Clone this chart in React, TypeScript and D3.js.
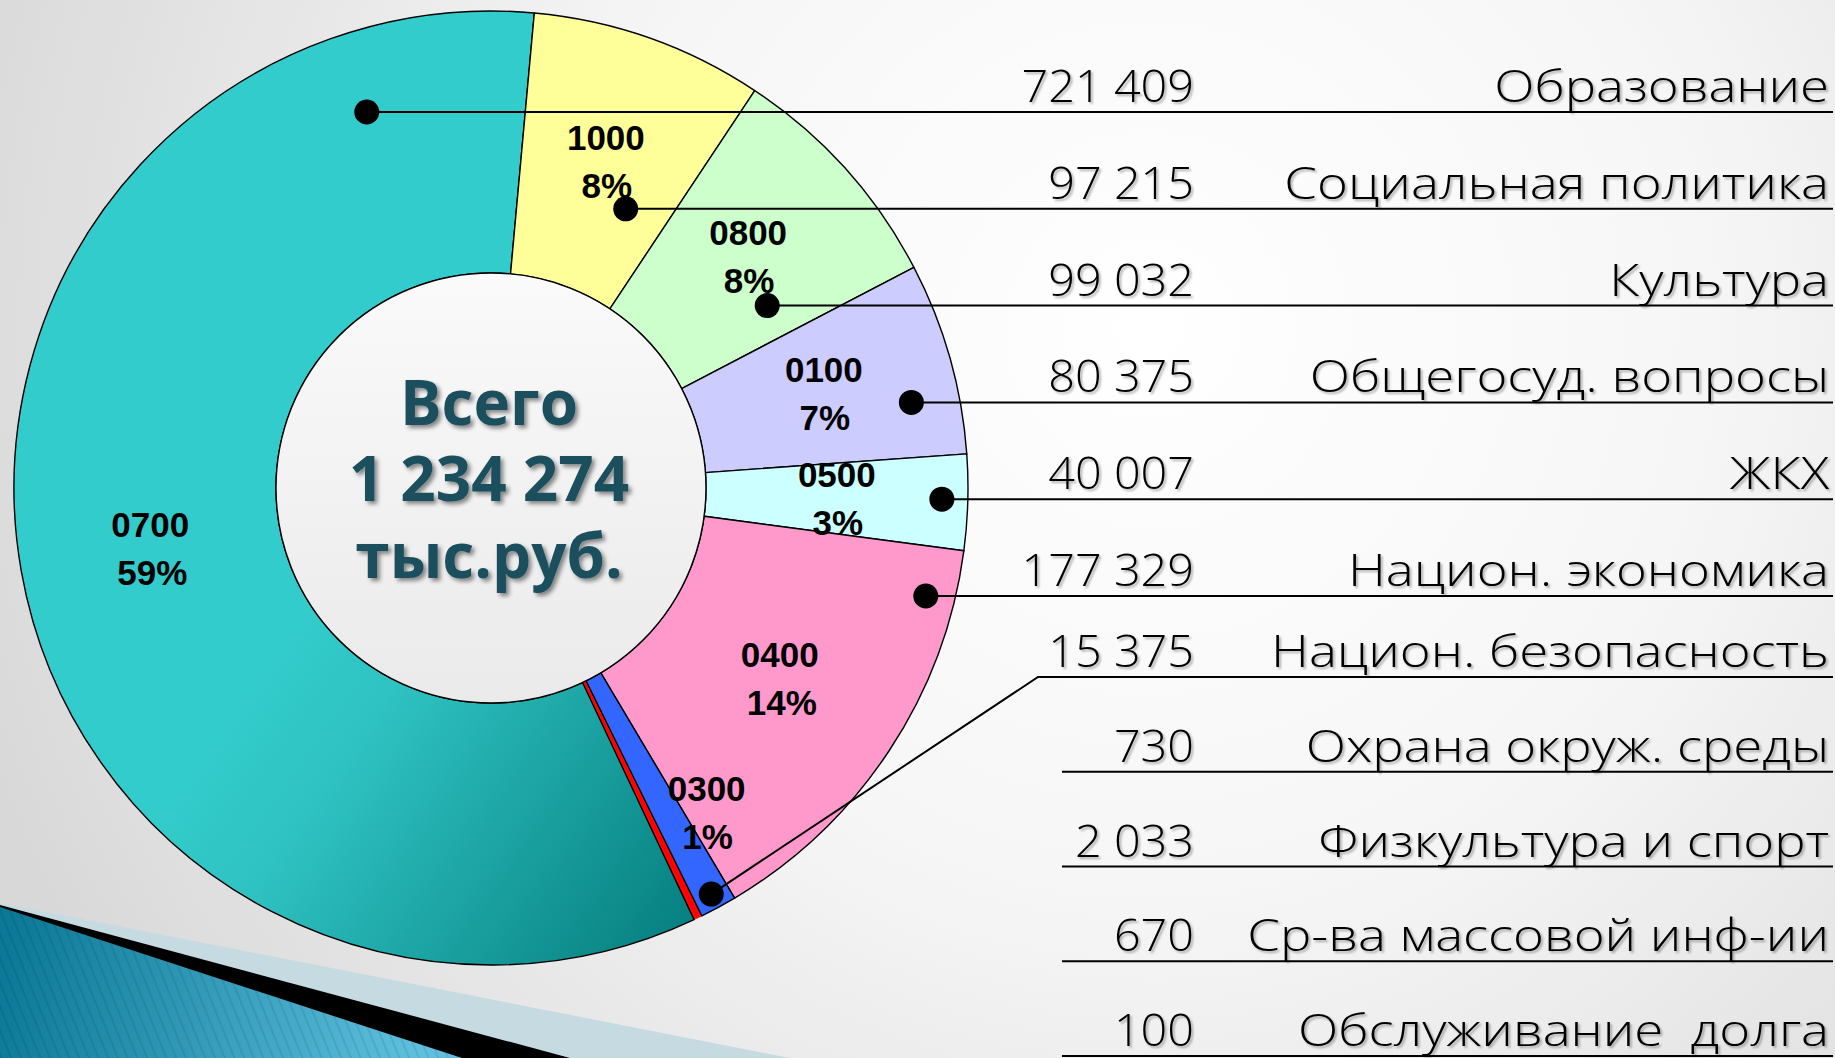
import React from "react";
import * as d3 from "d3";

// budget sections in the order the pie runs clockwise (same order as the list on the right)
const codes = ["0700", "1000", "0800", "0100", "0500", "0400", "0300", "0600", "1100", "1200", "1300"];
const sectionNames = [
  "Образование",
  "Социальная политика",
  "Культура",
  "Общегосуд. вопросы",
  "ЖКХ",
  "Национ. экономика",
  "Национ. безопасность",
  "Охрана окруж. среды",
  "Физкультура и спорт",
  "Ср-ва массовой инф-ии",
  "Обслуживание  долга",
];
const amounts = [721409, 97215, 99032, 80375, 40007, 177329, 15375, 730, 2033, 670, 100];
const shownPercents = ["59%", "8%", "8%", "7%", "3%", "14%", "1%", "", "", "", ""];
const totalLines = ["Всего", "1 234 274", "тыс.руб."];

const W = 1835;
const H = 1058;
const cx = 491;
const cy = 488;
const outerR = 477;
const innerR = 215;
const startDeg = -205.2;

const sliceColors: Record<string, string> = {
  "0700": "url(#tealGrad)",
  "1000": "#FFFF99",
  "0800": "#CCFFCC",
  "0100": "#CCCCFF",
  "0500": "#CCFFFF",
  "0400": "#FF99CC",
  "0300": "#3366FF",
};

// where each leader line leaves its slice (radius along the row line; minus = left of centre)
const leaderR: Record<string, number> = {
  "0700": -396,
  "1000": 310,
  "0800": 331,
  "0100": 429,
  "0500": 451,
  "0400": 448,
};

const fmt = d3.formatLocale({ decimal: ",", thousands: " ", grouping: [3], currency: ["", ""] }).format(",d");

const polar = (r: number, a: number): [number, number] => [cx + r * Math.sin(a), cy - r * Math.cos(a)];

export default function App() {
  const data = codes.map((code, i) => ({
    code,
    name: sectionNames[i],
    amount: amounts[i],
    pct: shownPercents[i],
  }));

  const a0 = (startDeg * Math.PI) / 180;
  const pie = d3
    .pie<any>()
    .sort(null)
    .value((d) => d.amount)
    .startAngle(a0)
    .endAngle(a0 + 2 * Math.PI);
  const arcs = pie(data);
  const arc = d3.arc<any>().innerRadius(innerR).outerRadius(outerR);

  // rows of the list on the right
  const rowY = d3.scaleLinear().domain([0, 5, 6, 10]).range([112, 596, 677, 1056]);
  const numX = 1194;
  const nameX = 1829;
  const lineEnd = 1833;

  const small = arcs.filter((d) => !sliceColors[d.data.code]);
  const big = arcs.filter((d) => sliceColors[d.data.code]);

  const labelPos = (d: any): [number, number] => {
    const mid = (d.startAngle + d.endAngle) / 2;
    if (d.data.code === "0300") return polar(390, mid - (5.1 * Math.PI) / 180);
    const [x, y] = arc.centroid(d);
    return [x + cx, y + cy];
  };

  const leaderDot = (d: any, i: number): [number, number] | null => {
    const y = rowY(i);
    const r = leaderR[d.code];
    if (r !== undefined) return [cx + Math.sign(r) * Math.sqrt(r * r - (y - cy) * (y - cy)), y];
    if (d.code === "0300") {
      const s = arcs[i];
      return polar(462, (s.startAngle + s.endAngle) / 2);
    }
    return null;
  };

  return (
    <svg width={W} height={H} style={{ display: "block", position: "absolute", left: 0, top: 0 }}>
      <defs>
        <radialGradient id="bgGrad" gradientUnits="userSpaceOnUse" cx="1150" cy="330" r="1250">
          <stop offset="0" stopColor="#FFFFFF" />
          <stop offset="0.45" stopColor="#F6F6F6" />
          <stop offset="1" stopColor="#D8D8D8" />
        </radialGradient>
        {/* coordinates relative to the pie centre */}
        <linearGradient id="tealGrad" gradientUnits="userSpaceOnUse" x1="-200" y1="130" x2="210" y2="420">
          <stop offset="0" stopColor="#33CCCC" />
          <stop offset="0.25" stopColor="#2FC2C2" />
          <stop offset="1" stopColor="#078080" />
        </linearGradient>
        <linearGradient id="holeGrad" x1="0" y1="0" x2="0" y2="1">
          <stop offset="0" stopColor="#FAFAFA" />
          <stop offset="1" stopColor="#EAEAEA" />
        </linearGradient>
        <linearGradient id="blueGrad" gradientUnits="userSpaceOnUse" x1="0" y1="960" x2="420" y2="1058">
          <stop offset="0" stopColor="#0B7897" />
          <stop offset="1" stopColor="#5EC0DE" />
        </linearGradient>
        <pattern id="stripes" width="9" height="9" patternUnits="userSpaceOnUse" patternTransform="rotate(-22)">
          <line x1="1" y1="0" x2="1" y2="9" stroke="#000" strokeOpacity="0.1" strokeWidth="1.5" />
        </pattern>
        <filter id="softShadow" x="-5%" y="-20%" width="115%" height="150%">
          <feDropShadow dx="2" dy="2" stdDeviation="1.3" floodColor="#000" floodOpacity="0.3" />
        </filter>
        <filter id="bigShadow" x="-10%" y="-20%" width="125%" height="150%">
          <feDropShadow dx="3" dy="3" stdDeviation="2" floodColor="#000" floodOpacity="0.45" />
        </filter>
      </defs>

      <rect width={W} height={H} fill="url(#bgGrad)" />

      {/* slide decoration, lower left */}
      <polygon points={`0,903 790,${H} 0,${H}`} fill="#C6DAE1" />
      <polygon points={`0,905 570,${H} 0,${H}`} fill="#000" />
      <polygon points={`0,907 462,${H} 0,${H}`} fill="url(#blueGrad)" />
      <polygon points={`0,907 462,${H} 0,${H}`} fill="url(#stripes)" />

      {/* donut */}
      <g transform={`translate(${cx},${cy})`}>
        {small.map((d) => (
          <path key={d.data.code} d={arc(d) as string} fill="#FF0000" stroke="#FF0000" strokeWidth={0.6} />
        ))}
        {big.map((d) => (
          <path
            key={d.data.code}
            d={arc(d) as string}
            fill={sliceColors[d.data.code]}
            stroke="#000"
            strokeWidth={1.4}
            strokeLinejoin="round"
          />
        ))}
        <circle r={innerR} fill="url(#holeGrad)" stroke="#000" strokeWidth={1.4} />
      </g>

      {/* slice labels */}
      <g fontFamily="'Liberation Sans', Arial, sans-serif" fontWeight="bold" fontSize={35} textAnchor="middle">
        {arcs
          .filter((d) => d.data.pct)
          .map((d) => {
            const [x, y] = labelPos(d);
            const px = d.data.code === "0700" || d.data.code === "0400" ? 2 : 1;
            return (
              <g key={d.data.code}>
                <text x={x} y={y - 11.5}>
                  {d.data.code}
                </text>
                <text x={x + px} y={y + 36.5}>
                  {d.data.pct}
                </text>
              </g>
            );
          })}
      </g>

      {/* total in the hole */}
      <g
        fontFamily="'Open Sans', sans-serif"
        fontWeight="bold"
        fontSize={62}
        fill="#1B4F5D"
        textAnchor="middle"
        filter="url(#bigShadow)"
      >
        {totalLines.map((t, i) => (
          <text key={t} x={cx - 2} y={cy + 13 + (i - 1) * 76.5}>
            {t}
          </text>
        ))}
      </g>

      {/* leader lines and row rules */}
      <g stroke="#000" strokeWidth={2} fill="none">
        {data.map((d, i) => {
          const y = rowY(i);
          const dot = leaderDot(d, i);
          if (d.code === "0300" && dot) {
            return <polyline key={d.code} points={`${dot[0]},${dot[1]} 1038,${y} ${lineEnd},${y}`} />;
          }
          if (dot) return <line key={d.code} x1={dot[0]} y1={y} x2={lineEnd} y2={y} />;
          return <line key={d.code} x1={1062} y1={y} x2={lineEnd} y2={y} strokeWidth={1.8} />;
        })}
      </g>
      <g fill="#000">
        {data.map((d, i) => {
          const dot = leaderDot(d, i);
          return dot ? <circle key={d.code} cx={dot[0]} cy={dot[1]} r={12.5} /> : null;
        })}
      </g>

      {/* list on the right */}
      <g fontFamily="'Open Sans', sans-serif" fontWeight={300} fontSize={45} fill="#000" filter="url(#softShadow)">
        {data.map((d, i) => {
          const y = rowY(i) - 10;
          return (
            <g key={d.code}>
              <text transform={`translate(${numX},${y}) scale(1.04,1)`} textAnchor="end">
                {fmt(d.amount)}
              </text>
              <text transform={`translate(${nameX},${y}) scale(1.17,1)`} textAnchor="end" style={{ whiteSpace: "pre" }}>
                {d.name}
              </text>
            </g>
          );
        })}
      </g>
    </svg>
  );
}
